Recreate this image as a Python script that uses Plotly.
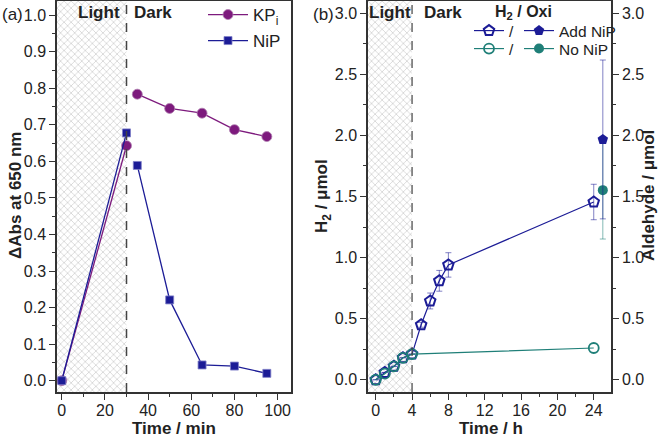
import plotly.graph_objects as go

# ---------------- data: panel (a) ----------------
time_min_light = [0, 30]
time_min_dark = [35, 50, 65, 80, 95]
kpi_light = [0.0, 0.643]
kpi_dark = [0.784, 0.745, 0.732, 0.687, 0.668]
nip_light = [0.0, 0.678]
nip_dark = [0.589, 0.221, 0.043, 0.040, 0.020]
light_end_min = 30
xa_ticks = [0, 20, 40, 60, 80, 100]
ya_ticks = [0.0, 0.1, 0.2, 0.3, 0.4, 0.5, 0.6, 0.7, 0.8, 0.9, 1.0]

# ---------------- data: panel (b) ----------------
time_h_add = [0, 1, 2, 3, 4, 5, 6, 7, 8, 24]
h2_add = [0.0, 0.06, 0.11, 0.18, 0.21, 0.45, 0.645, 0.81, 0.94, 1.455]
h2_add_err = [0, 0, 0, 0, 0, 0.02, 0.065, 0.085, 0.10, 0.145]
time_h_no = [0, 1, 2, 3, 4, 24]
h2_no = [0.0, 0.05, 0.11, 0.18, 0.21, 0.26]
ald_time = [25]
ald_add = [1.967]
ald_add_err = [0.65]
ald_no = [1.552]
ald_no_err = [0.40]
light_end_h = 4
xb_ticks = [0, 4, 8, 12, 16, 20, 24]
yb_ticks = [0.0, 0.5, 1.0, 1.5, 2.0, 2.5, 3.0]

# ---------------- styling ----------------
FONT = "Arial, Liberation Sans, sans-serif"
PURPLE = "#7d1a7d"
NAVY = "#1c1c96"
TEAL = "#1f7f78"
AXC = "#333333"
W, H = 666, 439
ML, MR, MT, MB = 57, 55, 1, 47
PW = W - ML - MR
PH = H - MT - MB


def px_x(p):
    return (p - ML) / PW


def px_y(p):
    return 1 - (p - MT) / PH


XA_RANGE = [-2.2, 106.2]
YA_RANGE = [-0.031, 1.039]
XB_RANGE = [-0.85, 25.9]
YB_RANGE = [-0.1, 3.1]

fig = go.Figure()

hatch = dict(shape="x", size=5, solidity=0.3, fgcolor="#ababab", bgcolor="white")

# hatched "light" regions
fig.add_trace(go.Scatter(
    x=[XA_RANGE[0] - 5, light_end_min, light_end_min, XA_RANGE[0] - 5],
    y=[YA_RANGE[0] - 1, YA_RANGE[0] - 1, YA_RANGE[1] + 1, YA_RANGE[1] + 1],
    fill="toself", fillcolor="white", fillpattern=hatch, mode="none",
    hoverinfo="skip", showlegend=False, xaxis="x", yaxis="y"))
fig.add_trace(go.Scatter(
    x=[XB_RANGE[0] - 5, light_end_h, light_end_h, XB_RANGE[0] - 5],
    y=[YB_RANGE[0] - 1, YB_RANGE[0] - 1, YB_RANGE[1] + 1, YB_RANGE[1] + 1],
    fill="toself", fillcolor="white", fillpattern=hatch, mode="none",
    hoverinfo="skip", showlegend=False, xaxis="x2", yaxis="y2"))

# panel (a) series
fig.add_trace(go.Scatter(
    x=time_min_light + [None] + time_min_dark,
    y=kpi_light + [None] + kpi_dark,
    mode="lines+markers", name="KP<sub>i</sub>",
    line=dict(color=PURPLE, width=1.3),
    marker=dict(symbol="circle", size=10, color=PURPLE, line=dict(color="#b080b0", width=0.8)),
    connectgaps=False, xaxis="x", yaxis="y", legend="legend"))
fig.add_trace(go.Scatter(
    x=time_min_light + [None] + time_min_dark,
    y=nip_light + [None] + nip_dark,
    mode="lines+markers", name="NiP",
    line=dict(color=NAVY, width=1.3),
    marker=dict(symbol="square", size=8, color=NAVY, line=dict(color="#8080c8", width=0.8)),
    connectgaps=False, xaxis="x", yaxis="y", legend="legend4"))

# panel (b) series
errc_n = "rgba(28,28,150,0.55)"
errc_t = "rgba(31,127,120,0.55)"
fig.add_trace(go.Scatter(
    x=time_h_add, y=h2_add, mode="lines+markers", name="/",
    line=dict(color=NAVY, width=1.2),
    marker=dict(symbol="pentagon-open", size=11, color=NAVY, line=dict(width=2)),
    error_y=dict(type="data", array=h2_add_err, color=errc_n, thickness=1, width=3),
    xaxis="x2", yaxis="y2", legend="legend2"))
fig.add_trace(go.Scatter(
    x=time_h_no, y=h2_no, mode="lines+markers", name="/",
    line=dict(color=TEAL, width=1.2),
    marker=dict(symbol="circle-open", size=10, color=TEAL, line=dict(width=1.8)),
    xaxis="x2", yaxis="y2", legend="legend3"))
fig.add_trace(go.Scatter(
    x=ald_time, y=ald_no, mode="lines+markers", name="No NiP",
    line=dict(color=TEAL, width=1.2),
    marker=dict(symbol="circle", size=10, color=TEAL),
    error_y=dict(type="data", array=ald_no_err, color=errc_t, thickness=1, width=3),
    xaxis="x2", yaxis="y3", legend="legend3"))
fig.add_trace(go.Scatter(
    x=ald_time, y=ald_add, mode="lines+markers", name="Add NiP",
    line=dict(color=NAVY, width=1.2),
    marker=dict(symbol="pentagon", size=11, color=NAVY),
    error_y=dict(type="data", array=ald_add_err, color=errc_n, thickness=1, width=3),
    xaxis="x2", yaxis="y3", legend="legend2"))

tickfont = dict(family=FONT, size=16, color="#222")


def axis(**kw):
    base = dict(showline=True, linecolor=AXC, linewidth=1.5, ticks="outside",
                ticklen=6, tickwidth=1.3, tickcolor=AXC, showgrid=False,
                zeroline=False, tickfont=tickfont, automargin=False)
    base.update(kw)
    return base


dom_a = [0, px_x(291)]
dom_b = [px_x(368), 1.0]

leg_a = dict(xanchor="left", yanchor="top", bgcolor="rgba(0,0,0,0)",
             font=dict(family=FONT, size=17, color="#222"), itemwidth=40)
leg_b = dict(orientation="h", xanchor="left", yanchor="top", bgcolor="rgba(0,0,0,0)",
             font=dict(family=FONT, size=15.5, color="#222"))

fig.update_layout(
    width=W, height=H,
    margin=dict(l=ML, r=MR, t=MT, b=MB, autoexpand=False),
    plot_bgcolor="white", paper_bgcolor="white",
    font=dict(family=FONT, size=16, color="#222"),
    xaxis=axis(domain=dom_a, range=XA_RANGE, tickvals=xa_ticks, mirror=True,
               ticklabelstandoff=-3,
               minor=dict(ticks="outside", ticklen=3, tickcolor=AXC, dtick=10, tick0=0),
               anchor="y"),
    yaxis=axis(range=YA_RANGE, tickvals=ya_ticks, tickformat=".1f", mirror=True,
               minor=dict(ticks="outside", ticklen=3, tickcolor=AXC, dtick=0.05, tick0=0),
               anchor="x"),
    xaxis2=axis(domain=dom_b, range=XB_RANGE, tickvals=xb_ticks, mirror=True,
                ticklabelstandoff=-3,
                minor=dict(ticks="outside", ticklen=3, tickcolor=AXC, dtick=2, tick0=0),
                anchor="y2"),
    yaxis2=axis(range=YB_RANGE, tickvals=yb_ticks, tickformat=".1f", anchor="x2",
                minor=dict(ticks="outside", ticklen=3, tickcolor=AXC, dtick=0.25, tick0=0)),
    yaxis3=axis(range=YB_RANGE, tickvals=yb_ticks, tickformat=".1f", anchor="x2",
                overlaying="y2", side="right",
                minor=dict(ticks="outside", ticklen=3, tickcolor=AXC, dtick=0.25, tick0=0)),
    legend=dict(leg_a, x=px_x(203), y=px_y(-3)),
    legend4=dict(leg_a, x=px_x(203), y=px_y(23)),
    legend2=dict(leg_b, x=px_x(469), y=px_y(14)),
    legend3=dict(leg_b, x=px_x(469), y=px_y(32)),
    showlegend=True,
)

# dashed dividers
fig.add_shape(type="line", xref="x", yref="y domain", x0=light_end_min, x1=light_end_min,
              y0=0, y1=1, line=dict(color="#444", width=1.5, dash="dash"))
fig.add_shape(type="line", xref="x2", yref="y2 domain", x0=light_end_h, x1=light_end_h,
              y0=0, y1=1, line=dict(color="#444", width=1.2, dash="dash"))

bold17 = dict(family=FONT, size=17, color="#222", weight="bold")
ann = [
    dict(x=light_end_min, xref="x", y=px_y(13), yref="paper", text="Light", xanchor="right",
         yanchor="middle", xshift=-5, font=bold17, showarrow=False),
    dict(x=light_end_min, xref="x", y=px_y(13), yref="paper", text="Dark", xanchor="left",
         yanchor="middle", xshift=5, font=bold17, showarrow=False),
    dict(x=light_end_h, xref="x2", y=px_y(13), yref="paper", text="Light", xanchor="right",
         yanchor="middle", xshift=1, font=bold17, showarrow=False),
    dict(x=light_end_h, xref="x2", y=px_y(13), yref="paper", text="Dark", xanchor="left",
         yanchor="middle", xshift=10, font=bold17, showarrow=False),
    dict(x=px_x(493), xref="paper", y=px_y(13), yref="paper", text="H<sub>2</sub> / Oxi",
         xanchor="left", yanchor="middle", font=dict(family=FONT, size=16, color="#222", weight="bold"),
         showarrow=False),
    dict(x=px_x(0), xref="paper", y=px_y(14), yref="paper", text="(a)", xanchor="left",
         yanchor="middle", font=dict(family=FONT, size=17, color="#222"), showarrow=False),
    dict(x=px_x(311), xref="paper", y=px_y(14), yref="paper", text="(b)", xanchor="left",
         yanchor="middle", font=dict(family=FONT, size=17, color="#222"), showarrow=False),
    # axis titles
    dict(x=px_x(173.5), xref="paper", y=px_y(428.5), yref="paper", text="Time / min",
         xanchor="center", yanchor="middle", font=bold17, showarrow=False),
    dict(x=px_x(491), xref="paper", y=px_y(428.5), yref="paper", text="Time / h",
         xanchor="center", yanchor="middle", font=bold17, showarrow=False),
    dict(x=px_x(15), xref="paper", y=px_y(196), yref="paper", text="ΔAbs at 650 nm",
         textangle=-90, xanchor="center", yanchor="middle", font=bold17, showarrow=False),
    dict(x=px_x(323), xref="paper", y=px_y(196), yref="paper", text="H<sub>2</sub> / μmol",
         textangle=-90, xanchor="center", yanchor="middle", font=bold17, showarrow=False),
    dict(x=px_x(648), xref="paper", y=px_y(196), yref="paper", text="Aldehyde / μmol",
         textangle=-90, xanchor="center", yanchor="middle", font=bold17, showarrow=False),
]
fig.update_layout(annotations=ann)

fig.write_html("out.html", config={"displayModeBar": False},
               post_script="document.body.style.margin='0px';document.body.style.overflow='hidden';")
